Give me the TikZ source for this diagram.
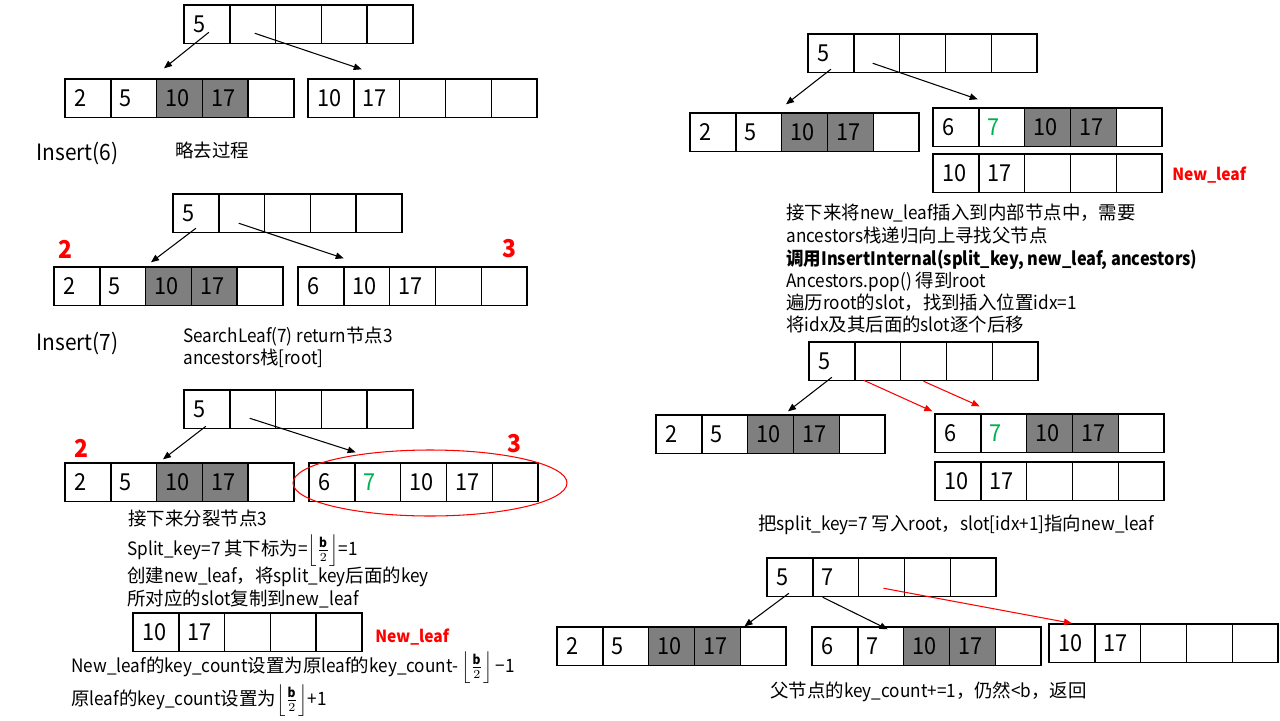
\documentclass[tikz,border=0pt]{standalone}
\usepackage{fontspec}
\setmainfont{Noto Sans CJK SC}[FakeStretch=0.93]
\newfontfamily\cjkfont{Noto Sans CJK SC}
\usepackage{graphicx}
\usetikzlibrary{arrows.meta,shapes.geometric}
% CJK characters in the unstretched face, Latin in the narrowed one
\XeTeXinterchartokenstate=1
\newXeTeXintercharclass\CJKcls
\newcount\cjkc
\cjkc="3000 \loop \XeTeXcharclass\cjkc=\CJKcls \advance\cjkc by 1 \ifnum\cjkc<"3040 \repeat
\cjkc="4E00 \loop \XeTeXcharclass\cjkc=\CJKcls \advance\cjkc by 1 \ifnum\cjkc<"A000 \repeat
\cjkc="FF00 \loop \XeTeXcharclass\cjkc=\CJKcls \advance\cjkc by 1 \ifnum\cjkc<"FFF0 \repeat
\XeTeXinterchartoks 0 \CJKcls = {\begingroup\cjkfont}
\XeTeXinterchartoks 4095 \CJKcls = {\begingroup\cjkfont}
\XeTeXinterchartoks \CJKcls 0 = {\endgroup}
\XeTeXinterchartoks \CJKcls 4095 = {\endgroup}
\definecolor{cellgray}{RGB}{127,127,127}
\definecolor{keygreen}{RGB}{0,176,80}
\definecolor{hired}{RGB}{255,0,0}
\newcommand\Row[4]{%
  \foreach \f/\t/\c [count=\i] in {#4} {
    \node[cell, fill=\f, text=\c] (#1-\i) at ({#2+(\i-0.5)*45.8},{#3+19.25}) {\makebox[0.556cm][l]{\t}};
  }}
\newcommand\flb{$\left\lfloor\frac{\mathbf{b}}{2}\right\rfloor$}
\begin{document}
\begin{tikzpicture}[x=0.02cm,y=-0.02cm,
  cell/.style={draw=black, line width=0.8pt, minimum width=0.916cm, minimum height=0.77cm,
    inner xsep=0.18cm, inner ysep=0pt, font=\fontsize{13.3}{13}\selectfont},
  arr/.style={-{Triangle[length=0.16cm,width=0.13cm]}, line width=0.6pt},
  txt/.style={anchor=base west, inner sep=0pt, font=\fontsize{10.5}{12}\selectfont},
  big/.style={anchor=base west, inner sep=0pt, font=\fontsize{12.8}{14}\selectfont},
  redlbl/.style={text=hired, inner sep=0pt, font=\fontsize{14}{14}\selectfont\bfseries},
  newlbl/.style={anchor=base west, inner sep=0pt, text=hired, font=\fontsize{9.5}{10}\selectfont\bfseries}]
\useasboundingbox (0,0) rectangle (1280,720);
% ---------- panel 1
\Row{p1r}{184}{5}{white/5/black, white//black, white//black, white//black, white//black}
\Row{p1a}{65}{79}{white/2/black, white/5/black, cellgray/10/black, cellgray/17/black, white//black}
\Row{p1b}{308}{79}{white/10/black, white/17/black, white//black, white//black, white//black}
\draw[arr] ([shift={(2,8)}]p1r-1.center) -- ([shift={(-15.5,-10)}]p1a-3.north);
\draw[arr] ([shift={(2,9)}]p1r-2.center) -- ([shift={(-15,-9)}]p1b-2.north);
\node[big] (ins6) at (36,160) {Insert(6)};
\node[txt] (skip) at (175,157) {略去过程};
% ---------- panel 2
\Row{p2r}{173}{194}{white/5/black, white//black, white//black, white//black, white//black}
\Row{p2a}{54}{267}{white/2/black, white/5/black, cellgray/10/black, cellgray/17/black, white//black}
\Row{p2b}{298}{267}{white/6/black, white/10/black, white/17/black, white//black, white//black}
\node[redlbl] (p2l2) at (65,249) {2};
\node[redlbl] (p2l3) at (509,249) {3};
\draw[arr] ([shift={(0,15)}]p2r-1.center) -- ([shift={(-17.5,-4)}]p2a-3.north);
\draw[arr] ([shift={(-3,10)}]p2r-2.center) -- ([shift={(-23,-8)}]p2b-2.north);
\node[big] (ins7) at (36,350) {Insert(7)};
\node[txt] (p2t1) at (183,342) {SearchLeaf(7) return节点3};
\node[txt] (p2t2) at (183,364) {ancestors栈[root]};
% ---------- panel 3
\Row{p3r}{184}{390}{white/5/black, white//black, white//black, white//black, white//black}
\Row{p3a}{65}{463}{white/2/black, white/5/black, cellgray/10/black, cellgray/17/black, white//black}
\Row{p3b}{309}{463}{white/6/black, white/7/keygreen, white/10/black, white/17/black, white//black}
\node[draw=hired, ellipse, line width=0.6pt, minimum width=5.48cm, minimum height=1.32cm, inner sep=0pt] (p3e) at (430,483) {};
\node[redlbl] (p3l2) at (81,448) {2};
\node[redlbl] (p3l3) at (514,444) {3};
\draw[arr] ([shift={(-1,17)}]p3r-1.center) -- ([shift={(-16.5,-3)}]p3a-3.north);
\draw[arr] ([shift={(-3,9)}]p3r-2.center) -- ([shift={(-22,-10)}]p3b-2.north);
\node[txt] (p3t1) at (128,525) {接下来分裂节点3};
\node[txt] (p3t2) at (127,555) {Split\_key=7 其下标为=\flb=1};
\node[txt] (p3t3) at (127,582) {创建new\_leaf，将split\_key后面的key};
\node[txt] (p3t4) at (127,605) {所对应的slot复制到new\_leaf};
\Row{p3n}{133}{613}{white/10/black, white/17/black, white//black, white//black, white//black}
\node[newlbl] (p3nl) at (375,642) {New\_leaf};
\node[txt] (p3t5) at (71,672) {New\_leaf的key\_count设置为原leaf的key\_count-\,\flb\,−1};
\node[txt] (p3t6) at (71,705) {原leaf的key\_count设置为\flb+1};
% ---------- panel 4
\Row{p4r}{808}{34}{white/5/black, white//black, white//black, white//black, white//black}
\Row{p4a}{690}{113}{white/2/black, white/5/black, cellgray/10/black, cellgray/17/black, white//black}
\Row{p4b}{933}{108}{white/6/black, white/7/keygreen, cellgray/10/black, cellgray/17/black, white//black}
\Row{p4n}{933}{154}{white/10/black, white/17/black, white//black, white//black, white//black}
\node[newlbl] (p4nl) at (1172,180) {New\_leaf};
\draw[arr] ([shift={(0,16)}]p4r-1.center) -- ([shift={(-18.5,-8)}]p4a-3.north);
\draw[arr] ([shift={(-4,10)}]p4r-2.center) -- ([shift={(-24,-8)}]p4b-2.north);
\node[txt] (p4t1) at (786,219) {接下来将new\_leaf插入到内部节点中，需要};
\node[txt] (p4t2) at (786,242) {ancestors栈递归向上寻找父节点};
\node[txt] (p4t3) at (786,265) {\scalebox{0.95}[1]{\bfseries 调用InsertInternal(split\_key, new\_leaf, ancestors)}};
\node[txt] (p4t4) at (786,287) {Ancestors.pop() 得到root};
\node[txt] (p4t5) at (786,309) {遍历root的slot，找到插入位置idx=1};
\node[txt] (p4t6) at (786,331) {将idx及其后面的slot逐个后移};
% ---------- panel 5
\Row{p5r}{809}{342}{white/5/black, white//black, white//black, white//black, white//black}
\Row{p5a}{656}{415}{white/2/black, white/5/black, cellgray/10/black, cellgray/17/black, white//black}
\Row{p5b}{935}{414}{white/6/black, white/7/keygreen, cellgray/10/black, cellgray/17/black, white//black}
\Row{p5n}{935}{462}{white/10/black, white/17/black, white//black, white//black, white//black}
\draw[arr] ([shift={(0,16)}]p5r-1.center) -- ([shift={(17.5,-3)}]p5a-3.north);
\draw[arr,hired] ([shift={(-14,19)}]p5r-2.center) -- ([shift={(-2,-2)}]p5b-1.north west);
\draw[arr,hired] ([shift={(0,20)}]p5r-3.center) -- ([shift={(-24,-7)}]p5b-2.north);
\node[txt] (p5t1) at (758,530) {把split\_key=7 写入root，slot[idx+1]指向new\_leaf};
% ---------- panel 6
\Row{p6r}{767}{558}{white/5/black, white/7/black, white//black, white//black, white//black}
\Row{p6a}{557}{627}{white/2/black, white/5/black, cellgray/10/black, cellgray/17/black, white//black}
\Row{p6b}{812}{627}{white/6/black, white/7/black, cellgray/10/black, cellgray/17/black, white//black}
\Row{p6c}{1049}{624}{white/10/black, white/17/black, white//black, white//black, white//black}
\draw[arr] ([shift={(-1,16)}]p6r-1.center) -- ([shift={(5,0)}]p6a-5.north west);
\draw[arr] ([shift={(-13,20)}]p6r-2.center) -- ([shift={(7,3)}]p6b-2.north);
\draw[arr,hired] ([shift={(2,11)}]p6r-3.center) -- (p6c-1.north);
\node[txt] (p6t1) at (770,697) {父节点的key\_count+=1，仍然<b，返回};
\end{tikzpicture}
\end{document}
